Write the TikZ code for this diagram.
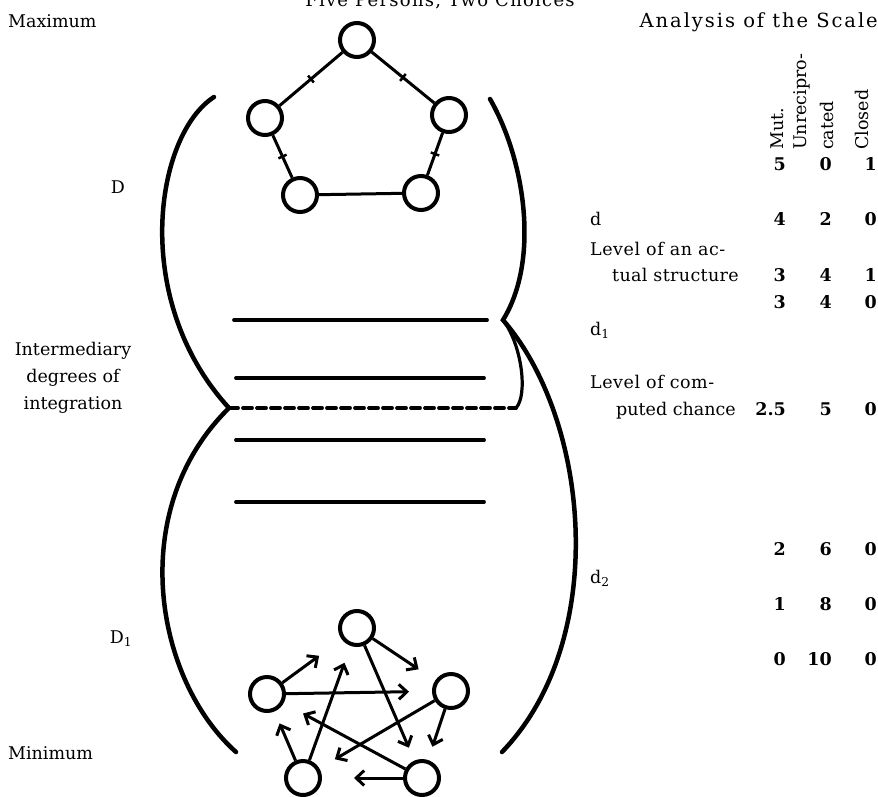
\documentclass[tikz,border=0pt]{standalone}
\usepackage{fontspec}
\setmainfont{DejaVu Serif}
\usetikzlibrary{arrows.meta,decorations.markings}
\begin{document}
\begin{tikzpicture}[x=1pt,y=-1pt,
  txt/.style={font=\fontsize{17.5}{27}\selectfont, inner sep=0pt},
  num/.style={font=\fontsize{17.5}{27}\selectfont\bfseries, inner sep=0pt, anchor=base east},
  person/.style={circle, draw, line width=4pt, minimum size=34pt, inner sep=0pt},
  mutual/.style={line width=3pt, postaction={decorate},
    decoration={markings, mark=at position 0.5 with {\draw[line width=2.5pt] (0pt,-4.5pt)--(0pt,4.5pt);}}},
  plain/.style={line width=3pt},
  choice/.style={line width=3pt, -{Straight Barb[length=8pt,width=15pt]}},
  bound/.style={line width=4.5pt, line cap=round},
  hook/.style={line width=3.2pt, line cap=round},
  level/.style={line width=3.8pt, line cap=round},
]
\useasboundingbox (0,0) rectangle (878,796);

% headings
\node[txt, font=\fontsize{18}{24}\selectfont\addfontfeature{LetterSpace=7}, anchor=base] (title) at (440,6) {Five Persons, Two Choices};
\node[txt, anchor=base west] (maxl) at (8,27) {Maximum};
\node[txt, font=\fontsize{19.5}{26}\selectfont\addfontfeature{LetterSpace=10}, anchor=base east] (anal) at (878,27) {Analysis of the Scale};

% left labels
\node[txt, anchor=base] (D) at (118,193) {D};
\node[txt, align=center, anchor=center] (inter) at (73,378) {Intermediary\\degrees of\\integration};
\node[txt, anchor=base] (D1) at (121,643) {D\textsubscript{1}};
\node[txt, anchor=base west] (minl) at (8,759) {Minimum};

% top pentagon (maximum)
\node[person] (t1) at (357,40) {};
\node[person] (t2) at (449,115) {};
\node[person] (t3) at (421,193) {};
\node[person] (t4) at (300,195) {};
\node[person] (t5) at (265,118) {};
\draw[mutual] (t1) -- (t2);
\draw[mutual] (t2) -- (t3);
\draw[plain] (t3) -- (t4);
\draw[mutual] (t4) -- (t5);
\draw[mutual] (t5) -- (t1);

% bottom pentagon (minimum)
\node[person] (b1) at (357,628) {};
\node[person] (b2) at (451,691) {};
\node[person] (b3) at (422,778) {};
\node[person] (b4) at (303,778) {};
\node[person] (b5) at (267,694) {};
\draw[choice, shorten >=20pt] (b1) -- (b2);
\draw[choice, shorten >=14pt] (b1) -- (b3);
\draw[choice, shorten >=28pt] (b5) -- (b1);
\draw[choice, shorten >=23pt] (b5) -- (b2);
\draw[choice, shorten >=14pt] (b2) -- (b3);
\draw[choice, shorten >=18pt] (b2) -- (b4);
\draw[choice, shorten >=22pt] (b3) -- (b5);
\draw[choice, shorten >=32pt] (b3) -- (b4);
\draw[choice, shorten >=13pt] (b4) -- (b5);
\draw[choice, shorten >=18pt] (b4) -- (b1);

% boundaries
\coordinate (cl) at (229,408);
\coordinate (cr) at (503,320);
\coordinate (hk) at (516,408);
\draw[bound] (214,97) .. controls (155,135) and (130,300) .. (cl)
             .. controls (125,510) and (155,680) .. (236,752);
\draw[bound] (490,99) .. controls (525,160) and (540,260) .. (cr)
             .. controls (590,420) and (610,640) .. (502,752);
\draw[hook] (cr) .. controls (522,345) and (528,395) .. (hk);

% levels
\draw[level] (234,320) -- (487,320);
\draw[level] (236,378) -- (484,378);
\draw[level, dash pattern=on 9pt off 5pt] (cl) -- (hk);
\draw[level] (236,440) -- (484,440);
\draw[level] (236,502) -- (484,502);

% right analysis column headers
\node[txt, rotate=90, anchor=west] (hmut) at (777,150) {Mut.};
\node[txt, rotate=90, anchor=west, align=left] (hunr) at (814,150) {Unrecipro-\\cated};
\node[txt, rotate=90, anchor=west] (hclo) at (862,150) {Closed};

% rows
\node[num] at (786,170) {5}; \node[num] at (832,170) {0}; \node[num] at (877,170) {1};
\node[txt, anchor=base west] (dlab) at (590,225) {d};
\node[num] at (786,225) {4}; \node[num] at (832,225) {2}; \node[num] at (877,225) {0};
\node[txt, anchor=base west, font=\fontsize{17.5}{27}\selectfont\addfontfeature{LetterSpace=3}] (lev1) at (590,255) {Level of an ac-};
\node[txt, anchor=base west, font=\fontsize{17.5}{27}\selectfont\addfontfeature{LetterSpace=2}] (lev1b) at (612,281) {tual structure};
\node[num] at (786,281) {3}; \node[num] at (832,281) {4}; \node[num] at (877,281) {1};
\node[num] at (786,308) {3}; \node[num] at (832,308) {4}; \node[num] at (877,308) {0};
\node[txt, anchor=base west] (d1lab) at (590,335) {d\textsubscript{1}};
\node[txt, anchor=base west, font=\fontsize{17.5}{27}\selectfont\addfontfeature{LetterSpace=3}] (lev2) at (590,388) {Level of com-};
\node[txt, anchor=base west] (lev2b) at (616,415) {puted chance};
\node[num] at (786,415) {2.5}; \node[num] at (832,415) {5}; \node[num] at (877,415) {0};
\node[num] at (786,555) {2}; \node[num] at (832,555) {6}; \node[num] at (877,555) {0};
\node[txt, anchor=base west] (d2lab) at (590,583) {d\textsubscript{2}};
\node[num] at (786,610) {1}; \node[num] at (832,610) {8}; \node[num] at (877,610) {0};
\node[num] at (786,665) {0}; \node[num] at (832,665) {10}; \node[num] at (877,665) {0};
\end{tikzpicture}
\end{document}
